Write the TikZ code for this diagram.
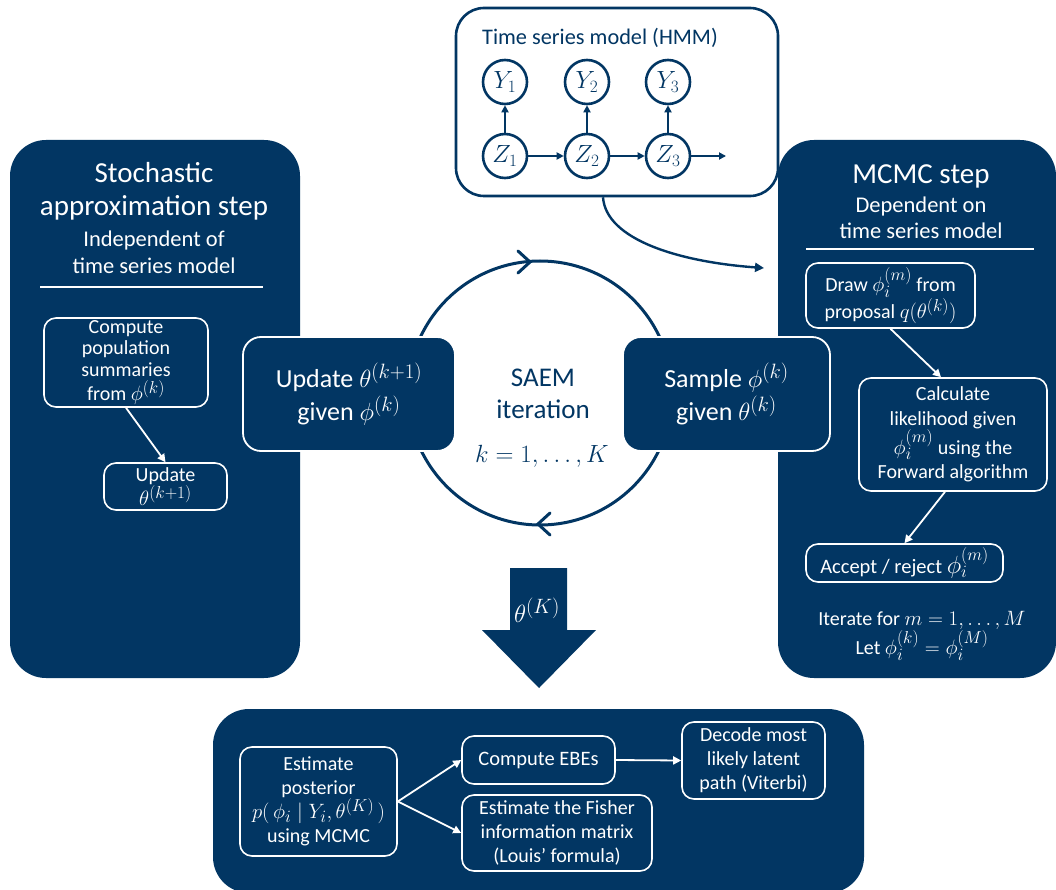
\documentclass[tikz,border=0pt]{standalone}
\usepackage{fontspec}
\setmainfont{Carlito}
\usetikzlibrary{arrows.meta}
\definecolor{navy}{RGB}{2,54,99}
\newcommand\fsz[2]{\fontsize{#1}{#2}\selectfont}
\makeatletter
\newcommand\M[1]{{\fontsize{\fpeval{1.14*\f@size}}{\f@baselineskip}\selectfont$#1$}}
\makeatother
\begin{document}
\begin{tikzpicture}[x=1pt,y=-1pt,
  panel/.style={fill=navy, rounded corners=36pt, inner sep=0pt},
  wbox/.style={draw=white, line width=1.6pt, rounded corners=12pt, fill=navy, text=white, align=center, inner sep=0pt},
  bigbox/.style={draw=white, line width=1.8pt, rounded corners=18pt, fill=navy, text=white, align=center, inner sep=0pt, font=\fsz{26}{33}},
  small/.style={font=\fsz{20.5}{23}},
  wtext/.style={text=white, align=center, inner sep=0pt},
  warrow/.style={white, line width=1.8pt, -{Triangle[length=8pt,width=8pt]}},
  narrow/.style={navy, line width=2.4pt, -{Triangle[length=9pt,width=9pt]}},
  hnode/.style={circle, draw=navy, line width=2.6pt, minimum size=44pt, inner sep=0pt, text=navy, font=\fsz{26}{28}},
  harrow/.style={navy, line width=2pt, -{Triangle[length=7pt,width=7pt]}},
]
\useasboundingbox (0,0) rectangle (1056,890);

% ---------- left panel ----------
\node[panel, minimum width=290pt, minimum height=538pt] (sap) at (155,409) {};
\node[wtext, font=\fsz{29}{33}] (sapt) at (154,191) {Stochastic\\approximation step};
\node[wtext, font=\fsz{22.5}{27}] (saps) at (154,252) {Independent of\\time series model};
\draw[white, line width=1.5pt] (40,287) -- (263,287);
\node[wbox, minimum width=164pt, minimum height=89pt, font=\fsz{20}{21.5}] (cps) at (126,362.5) {Compute\\population\\summaries\\[3pt]from \M{\phi^{(k)}}};
\node[wbox, minimum width=123pt, minimum height=47pt, font=\fsz{20}{20}] (upd) at (165.5,486.5) {Update\\\M{\theta^{(k+1)}}};
\draw[warrow] (cps.south) -- (upd.north);

% ---------- right panel ----------
\node[panel, minimum width=278pt, minimum height=538pt] (mcmc) at (917,409) {};
\node[wtext, font=\fsz{29}{33}] (mcmct) at (921,176) {MCMC step};
\node[wtext, font=\fsz{22.5}{26}] (mcmcs) at (921,218) {Dependent on\\time series model};
\draw[white, line width=1.5pt] (806,249) -- (1034,249);
\node[wbox, minimum width=169pt, minimum height=65pt, font=\fsz{20}{25}] (drw) at (890.5,295.5) {Draw \M{\phi_i^{(m)}} from\\proposal \M{q\big(\theta^{(k)}\big)}};
\node[wbox, minimum width=188pt, minimum height=113pt, font=\fsz{20}{24.5}] (calc) at (953,434.5) {Calculate\\likelihood given\\\M{\phi_i^{(m)}} using the\\Forward algorithm};
\node[wbox, small, minimum width=197pt, minimum height=38pt] (acc) at (904.5,563) {Accept / reject \M{\phi_i^{(m)}}};
\node[wtext, font=\fsz{20}{26}] (iter) at (922,636) {Iterate for \M{m=1,\ldots,M}\\Let \M{\phi_i^{(k)}=\phi_i^{(M)}}};
\draw[warrow] (drw.south) -- ([xshift=-12pt]calc.north);
\draw[warrow] ([xshift=-8pt]calc.south) -- (acc.north);

% ---------- HMM box ----------
\node[draw=navy, line width=2.6pt, rounded corners=28pt, fill=white, minimum width=322pt, minimum height=188pt, inner sep=0pt] (hmm) at (617,102) {};
\node[text=navy, font=\fsz{22.3}{24}, inner sep=0pt] (hmmt) at (600,38) {Time series model (HMM)};
\node[hnode] (y1) at (505,82) {$Y_1$};
\node[hnode] (y2) at (587,82) {$Y_2$};
\node[hnode] (y3) at (668,82) {$Y_3$};
\node[hnode] (z1) at (505,156) {$Z_1$};
\node[hnode] (z2) at (587,156) {$Z_2$};
\node[hnode] (z3) at (668,156) {$Z_3$};
\coordinate (zend) at (726,156);
\draw[harrow] (z1) -- (y1);
\draw[harrow] (z2) -- (y2);
\draw[harrow] (z3) -- (y3);
\draw[harrow] (z1) -- (z2);
\draw[harrow] (z2) -- (z3);
\draw[harrow] (z3) -- (zend);
\coordinate (mcin) at (764,268);
\draw[narrow] ([xshift=-14pt]hmm.south) .. controls (606,240) and (680,262) .. (mcin);

% ---------- SAEM cycle ----------
\draw[navy, line width=3pt] (540,393) circle (132pt);
\draw[navy, line width=3pt, line cap=round, line join=miter] (518,251) -- (530,262) -- (518,273);
\draw[navy, line width=3pt, line cap=round, line join=miter] (550,513) -- (538,524) -- (550,535);
\node[text=navy, align=center, font=\fsz{27}{32}, inner sep=0pt] (saem) at (543,394) {SAEM\\iteration};
\node[text=navy, font=\fsz{28}{30}, inner sep=0pt] (kk) at (542,456) {$k=1,\ldots,K$};
\node[bigbox, minimum width=212pt, minimum height=114pt] (updb) at (349,394) {Update \M{\theta^{(k+1)}}\\given \M{\phi^{(k)}}};
\node[bigbox, minimum width=207pt, minimum height=114pt] (smp) at (726.5,394) {Sample \M{\phi^{(k)}}\\given \M{\theta^{(k)}}};

% ---------- big down arrow ----------
\fill[navy] (510,568) -- (567,568) -- (567,630) -- (596,630) -- (539,688) -- (482,630) -- (510,630) -- cycle;
\node[text=white, font=\fsz{31}{32}, inner sep=0pt] (thK) at (537,610) {$\theta^{(K)}$};

% ---------- bottom panel ----------
\node[panel, minimum width=651pt, minimum height=184pt] (post) at (538.5,801) {};
\node[wbox, minimum width=157pt, minimum height=109pt, font=\fsz{20}{24}] (est) at (318.5,801.5) {Estimate\\posterior\\\M{p\big(\,\phi_i \mid Y_i,\theta^{(K)}\,\big)}\\using MCMC};
\node[wbox, small, minimum width=153pt, minimum height=48pt] (ebe) at (538.5,760) {Compute EBEs};
\node[wbox, minimum width=190pt, minimum height=76pt, font=\fsz{20}{24}] (fish) at (557,833) {Estimate the Fisher\\information matrix\\(Louis’ formula)};
\node[wbox, minimum width=143pt, minimum height=77pt, font=\fsz{20}{24}] (dec) at (753.5,760.5) {Decode most\\likely latent\\path (Viterbi)};
\draw[warrow] (est.east) -- (ebe.west);
\draw[warrow] (est.east) -- (fish.west);
\draw[warrow] (ebe.east) -- (dec.west);
\end{tikzpicture}
\end{document}
